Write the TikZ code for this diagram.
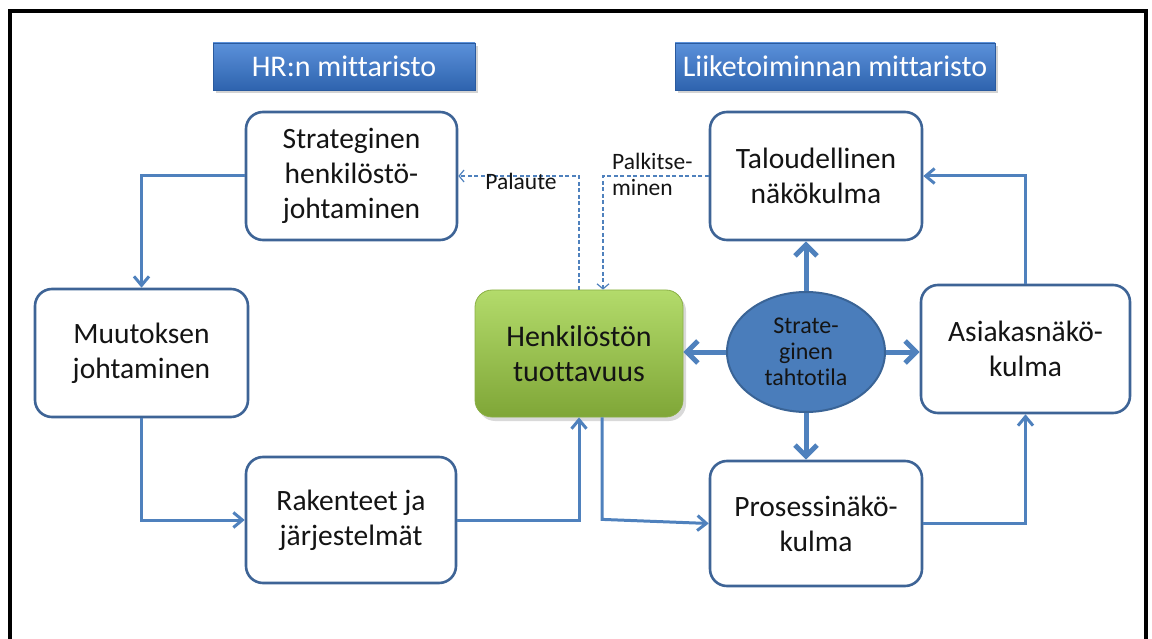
\documentclass[tikz,border=0pt]{standalone}
\usepackage{fontspec}
\setmainfont{Carlito}[Ligatures=NoCommon]
\usetikzlibrary{arrows.meta,shadows,calc,shapes.geometric}

\definecolor{linkblue}{HTML}{4F81BD}
\definecolor{edgeblue}{HTML}{3E6496}
\definecolor{hdrtop}{HTML}{5B91DA}
\definecolor{hdrbot}{HTML}{2E63AE}
\definecolor{hdredge}{HTML}{2A5A9E}
\definecolor{greentop}{HTML}{B3DB6B}
\definecolor{greenbot}{HTML}{7FA637}
\definecolor{greenedge}{HTML}{8AAF45}
\definecolor{ovalfill}{HTML}{4A7DBB}
\definecolor{ovaledge}{HTML}{3A6496}
\definecolor{inktext}{HTML}{141414}

\tikzset{
  box/.style={draw=edgeblue, line width=2.6pt, rounded corners=17pt, fill=white,
    align=center, text=inktext, inner sep=0pt,
    font=\fontsize{29.5}{35}\selectfont},
  header/.style={draw=hdredge, line width=0.6pt, top color=hdrtop, bottom color=hdrbot,
    text=white, inner sep=0pt, font=\fontsize{30}{34}\selectfont,
    drop shadow={shadow xshift=3pt, shadow yshift=-3pt, opacity=0.35}},
  goal/.style={draw=greenedge, line width=0.8pt, rounded corners=17pt,
    top color=greentop, bottom color=greenbot, align=center, text=inktext,
    inner sep=0pt, font=\fontsize{30}{35}\selectfont,
    drop shadow={shadow xshift=3pt, shadow yshift=-4pt, opacity=0.3}},
  oval/.style={ellipse, draw=ovaledge, line width=2pt, fill=ovalfill, align=center,
    text=inktext, inner sep=0pt, font=\fontsize{24}{26}\selectfont},
  conn/.style={draw=linkblue, line width=3pt,
    -{Straight Barb[length=9pt,width=15pt]}},
  bigarrow/.style={draw=linkblue, line width=5pt,
    -{Straight Barb[length=11pt,width=22pt]}},
  feedback/.style={draw=linkblue, line width=1.2pt, dash pattern=on 4pt off 2.5pt,
    -{Straight Barb[length=5pt,width=12pt,line width=1.2pt]}},
  lbl/.style={text=inktext, inner sep=0pt, font=\fontsize{23.5}{26}\selectfont}
}

\begin{document}
\begin{tikzpicture}[x=1pt,y=-1pt]
\useasboundingbox (0,0) rectangle (1152,639);

% open frame
\draw[line width=4pt] (10,639) -- (10,11) -- (1146,11) -- (1146,639);

% headers
\node[header, minimum width=262pt, minimum height=47pt] (hr) at (344,66.5) {HR:n mittaristo};
\node[header, minimum width=320pt, minimum height=47pt] (lt) at (835,66.5) {Liiketoiminnan mittaristo};

% HR side
\node[box, minimum width=211pt, minimum height=128pt] (strat) at (351.5,176) {Strateginen\\henkilöstö-\\johtaminen};
\node[box, minimum width=213pt, minimum height=128pt] (muut) at (141.5,353) {Muutoksen\\johtaminen};
\node[box, minimum width=210pt, minimum height=126pt] (rak) at (351,520) {Rakenteet ja\\järjestelmät};

% centre
\node[goal, minimum width=208pt, minimum height=127pt] (tuot) at (579,353.5) {Henkilöstön\\tuottavuus};
\node[oval, minimum width=158pt, minimum height=120pt] (ell) at (806,352) {Strate-\\ginen\\tahtotila};

% business side
\node[box, minimum width=212pt, minimum height=128pt] (talo) at (816,176) {Taloudellinen\\näkökulma};
\node[box, minimum width=209pt, minimum height=128pt] (asia) at (1025.5,349) {Asiakasnäkö-\\kulma};
\node[box, minimum width=212pt, minimum height=125pt] (pros) at (816,523.5) {Prosessinäkö-\\kulma};

% HR cycle
\draw[conn] (strat.west) -| (muut.north);
\draw[conn] (muut.south) |- (rak.west);
\draw[conn] (rak.east) -| (tuot.south);
\coordinate (tout) at ($(tuot.south)+(23,0)$);
\draw[conn] (tout) -- ++(0,102) -- (pros.west);

% business cycle
\draw[conn] (pros.east) -| (asia.south);
\draw[conn] (asia.north) |- (talo.east);

% strategic intent
\draw[bigarrow] (ell.north) -- (ell.north |- talo.south);
\draw[bigarrow] (ell.south) -- (ell.south |- pros.north);
\draw[bigarrow] (ell.west) -- (ell.west -| tuot.east);
\draw[bigarrow] (ell.east) -- (ell.east -| asia.west);

% feedback and rewards
\draw[feedback] (tuot.north) |- (strat.east);
\coordinate (tin) at ($(tuot.north)+(24,0)$);
\draw[feedback] (talo.west) -| (tin);
\node[lbl] (palaute) at (521,181) {Palaute};
\node[lbl, align=left, anchor=west] (palk) at (612,174) {Palkitse-\\minen};
\end{tikzpicture}
\end{document}
